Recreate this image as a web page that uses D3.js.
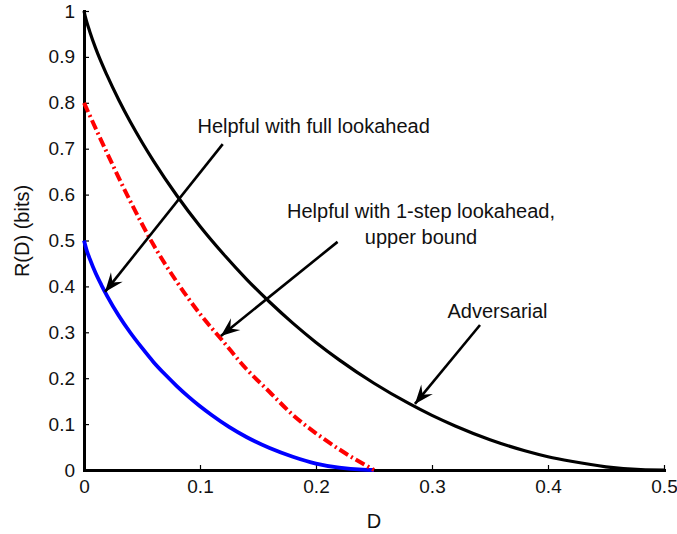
<!DOCTYPE html>
<html>
<head>
<meta charset="utf-8">
<script src="https://cdn.jsdelivr.net/npm/d3@7"></script>
<style>
    body { margin: 0; background: #fff; }
    text { font-family: "Liberation Sans", Arial, sans-serif; fill: #111; }
    .axis path, .axis line { stroke: #000; }
</style>
</head>
<body>
<div id="chart"></div>
<script>
// Adversarial
const advD = [0, 0.001, 0.0025, 0.005, 0.01, 0.02, 0.03, 0.04, 0.05, 0.06, 0.08, 0.10, 0.12, 0.14, 0.16, 0.18, 0.20, 0.22, 0.25, 0.28, 0.30, 0.32, 0.35, 0.38, 0.40, 0.42, 0.45, 0.48, 0.50];
const advR = [1, 0.989, 0.975, 0.955, 0.919, 0.859, 0.806, 0.758, 0.714, 0.673, 0.598, 0.531, 0.471, 0.416, 0.366, 0.320, 0.278, 0.240, 0.189, 0.145, 0.119, 0.096, 0.066, 0.042, 0.029, 0.019, 0.007, 0.001, 0];

// Helpful with full lookahead
const fullD = [0, 0.0025, 0.005, 0.01, 0.015, 0.02, 0.03, 0.04, 0.05, 0.06, 0.07, 0.08, 0.09, 0.10, 0.11, 0.125, 0.14, 0.16, 0.18, 0.20, 0.22, 0.24, 0.25];
const fullR = [0.5, 0.477, 0.460, 0.429, 0.403, 0.379, 0.336, 0.299, 0.266, 0.235, 0.208, 0.183, 0.160, 0.139, 0.120, 0.094, 0.072, 0.048, 0.029, 0.014, 0.005, 0.0006, 0];

// Helpful with 1-step lookahead, upper bound
const stepD = [0, 0.02, 0.04, 0.06, 0.08, 0.10, 0.12, 0.14, 0.16, 0.18, 0.20, 0.22, 0.25];
const stepR = [0.80, 0.69, 0.585, 0.49, 0.41, 0.34, 0.28, 0.22, 0.17, 0.12, 0.08, 0.045, 0];

const xTicks = [0, 0.1, 0.2, 0.3, 0.4, 0.5];
const yTicks = [0, 0.1, 0.2, 0.3, 0.4, 0.5, 0.6, 0.7, 0.8, 0.9, 1];

// annotations: label lines, label anchor, arrow tail and tip (data units)
const notes = [
    { lines: ["Helpful with full lookahead"], at: [0.198, 0.734], from: [0.1196, 0.710], to: [0.0181, 0.388] },
    { lines: ["Helpful with 1-step lookahead,", "upper bound"], at: [0.2905, 0.549], from: [0.2186, 0.497], to: [0.118, 0.292] },
    { lines: ["Adversarial"], at: [0.3565, 0.331], from: [0.3414, 0.316], to: [0.2853, 0.144] }
];

function zip(xs, ys) {
    return xs.map(function (x, i) { return { x: x, y: ys[i] }; });
}

let width = 677, height = 534;
let plot = { left: 84, right: 664, top: 11, bottom: 470 };

let svg = d3.select("#chart")
    .append("svg")
    .attr("width", width)
    .attr("height", height);

let xScale = d3.scaleLinear().domain([0, 0.5]).range([plot.left, plot.right]);
let yScale = d3.scaleLinear().domain([0, 1]).range([plot.bottom, plot.top]);

// Add x axis
let xAxis = svg.append("g")
    .attr("class", "axis")
    .attr("transform", "translate(0," + plot.bottom + ")")
    .call(d3.axisBottom(xScale).tickValues(xTicks).tickFormat(d3.format("")).tickSizeInner(-5).tickSizeOuter(0).tickPadding(10));

// Add y axis
let yAxis = svg.append("g")
    .attr("class", "axis")
    .attr("transform", "translate(" + plot.left + ",0)")
    .call(d3.axisLeft(yScale).tickValues(yTicks).tickFormat(d3.format("")).tickSizeInner(-5).tickSizeOuter(0).tickPadding(9));

svg.selectAll(".axis .domain").attr("stroke-width", 3).attr("stroke-linecap", "square");
svg.selectAll(".axis .tick line").attr("stroke-width", 1.2);
svg.selectAll(".axis text").attr("font-size", "19px").attr("font-family", null).attr("fill", "#111");

svg.append("text")
    .attr("text-anchor", "middle")
    .attr("x", (plot.left + plot.right) / 2)
    .attr("y", 528)
    .attr("font-size", "20px")
    .text("D");

svg.append("text")
    .attr("text-anchor", "middle")
    .attr("transform", "rotate(-90)")
    .attr("x", -231)
    .attr("y", 29)
    .attr("font-size", "20px")
    .text("R(D) (bits)");

// Plot lines
let lineGenerator = d3.line()
    .curve(d3.curveMonotoneX)
    .x(function (d) { return xScale(d.x); })
    .y(function (d) { return yScale(d.y); });

svg.append("path")
    .datum(zip(fullD, fullR))
    .attr("fill", "none")
    .attr("stroke", "#0000ff")
    .attr("stroke-width", 3.8)
    .attr("d", lineGenerator);

svg.append("path")
    .datum(zip(stepD, stepR))
    .attr("fill", "none")
    .attr("stroke", "#ff0000")
    .attr("stroke-width", 4)
    .attr("stroke-dasharray", "10,3.5,2,3.5")
    .attr("d", lineGenerator);

svg.append("path")
    .datum(zip(advD, advR))
    .attr("fill", "none")
    .attr("stroke", "#000")
    .attr("stroke-width", 3.2)
    .attr("d", lineGenerator);

// Arrow head
svg.append("defs").append("marker")
    .attr("id", "head")
    .attr("markerUnits", "userSpaceOnUse")
    .attr("viewBox", "-20 -10 22 20")
    .attr("refX", 0)
    .attr("refY", 0)
    .attr("markerWidth", 22)
    .attr("markerHeight", 20)
    .attr("orient", "auto")
    .append("path")
    .attr("d", "M0,0 L-19,-7.5 L-12,0 L-19,7.5 Z")
    .attr("fill", "#000");

// Annotations
notes.forEach(function (n) {
    svg.append("line")
        .attr("x1", xScale(n.from[0]))
        .attr("y1", yScale(n.from[1]))
        .attr("x2", xScale(n.to[0]))
        .attr("y2", yScale(n.to[1]))
        .attr("stroke", "#000")
        .attr("stroke-width", 2.6)
        .attr("marker-end", "url(#head)");

    let label = svg.append("text")
        .attr("text-anchor", "middle")
        .attr("x", xScale(n.at[0]))
        .attr("y", yScale(n.at[1]))
        .attr("font-size", "20px");
    n.lines.forEach(function (t, i) {
        label.append("tspan")
            .attr("x", xScale(n.at[0]))
            .attr("dy", i === 0 ? 0 : 26)
            .text(t);
    });
});
</script>
</body>
</html>
